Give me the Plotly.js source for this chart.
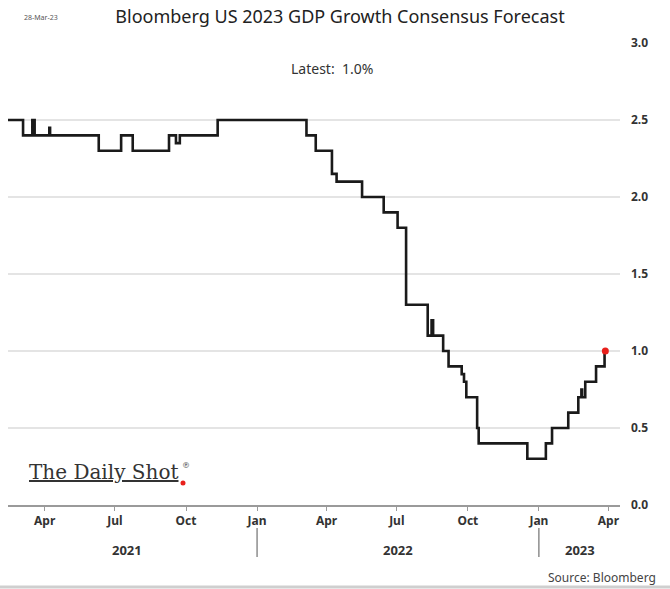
<!DOCTYPE html>
<html>
<head>
<meta charset="utf-8">
<script src="https://cdn.plot.ly/plotly-3.0.1.min.js"></script>
<style>
  html, body { margin: 0; padding: 0; background: #ffffff; }
  #chart { width: 670px; height: 589px; }
</style>
</head>
<body>
<div id="chart"></div>
<script>
// Consensus forecast (step series)
const dates = [
  '2021-02-12', '2021-03-04', '2021-03-16', '2021-03-19', '2021-04-07', '2021-04-08',
  '2021-06-10', '2021-07-09', '2021-07-24', '2021-09-09', '2021-09-18', '2021-09-23',
  '2021-11-11', '2022-03-06', '2022-03-18', '2022-04-08', '2022-04-14', '2022-05-17',
  '2022-06-14', '2022-07-02', '2022-07-13', '2022-08-10', '2022-08-15', '2022-08-17',
  '2022-08-30', '2022-09-06', '2022-09-23', '2022-09-26', '2022-09-29', '2022-10-13',
  '2022-10-15', '2022-12-17', '2023-01-10', '2023-01-18', '2023-02-08', '2023-02-21',
  '2023-02-25', '2023-02-26', '2023-03-02', '2023-03-16', '2023-03-27', '2023-03-28'
];
const values = [
  2.5, 2.4, 2.5, 2.4, 2.45, 2.4,
  2.3, 2.4, 2.3, 2.4, 2.35, 2.4,
  2.5, 2.4, 2.3, 2.15, 2.1, 2.0,
  1.9, 1.8, 1.3, 1.1, 1.2, 1.1,
  1.0, 0.9, 0.85, 0.8, 0.7, 0.5,
  0.4, 0.3, 0.4, 0.5, 0.6, 0.7,
  0.75, 0.7, 0.8, 0.9, 1.0, 1.0
];
const latestDate = ['2023-03-28'];
const latestValue = [1.0];

const tickDates = ['2021-04-01','2021-07-01','2021-10-01','2022-01-01','2022-04-01','2022-07-01','2022-10-01','2023-01-01','2023-04-01'];
const tickText = ['Apr','Jul','Oct','Jan','Apr','Jul','Oct','Jan','Apr'];
const yearLabels = ['2021','2022','2023'];
const yearLabelDates = ['2021-07-17','2022-07-02','2023-02-23'];
const yearBreaks = ['2022-01-01','2023-01-01'];
const yTicks = [0, 0.5, 1.0, 1.5, 2.0, 2.5, 3.0];
const yTickText = ['0.0','0.5','1.0','1.5','2.0','2.5','3.0'];

const FONT = 'Noto Sans, Open Sans, sans-serif';

// plot-area geometry helpers (pixels -> paper)
const L = 8, R = 50, T = 43, B = 84, W = 670, H = 589;
const pw = W - L - R, ph = H - T - B;
const px = x => (x - L) / pw;
const py = y => (H - B - y) / ph;

const traces = [
  {
    x: dates, y: values, type: 'scatter', mode: 'lines',
    line: { color: '#1a1a1a', width: 2.6, shape: 'hv' },
    hoverinfo: 'skip', showlegend: false
  },
  {
    x: latestDate, y: latestValue, type: 'scatter', mode: 'markers',
    marker: { color: '#e8201c', size: 7 },
    hoverinfo: 'skip', showlegend: false
  }
];

const annotations = [
  { text: 'Latest:  1.0%', xref: 'paper', yref: 'paper', x: px(332), y: py(68),
    xanchor: 'center', yanchor: 'middle',
    showarrow: false, font: { family: FONT, size: 14, color: '#333333' } },
  { text: '28-Mar-23', xref: 'paper', yref: 'paper', x: px(41), y: py(18),
    xanchor: 'center', yanchor: 'middle',
    showarrow: false, font: { family: FONT, size: 7, color: '#555555' } },
  { text: 'Source: Bloomberg', xref: 'paper', yref: 'paper', x: px(658), y: py(577),
    xanchor: 'right', yanchor: 'middle', showarrow: false, font: { family: FONT, size: 12, color: '#444444' } },
  { text: '<u>The Daily Shot</u>', xref: 'paper', yref: 'paper', x: px(27), y: py(472),
    xanchor: 'left', yanchor: 'middle', showarrow: false,
    font: { family: 'DejaVu Serif, Liberation Serif, serif', size: 20, color: '#333333' } },
  { text: '®', xref: 'paper', yref: 'paper', x: px(186), y: py(465),
    xanchor: 'center', yanchor: 'middle', showarrow: false,
    font: { family: 'DejaVu Serif, Liberation Serif, serif', size: 8, color: '#333333' } }
];
yearLabels.forEach((t, i) => {
  annotations.push({ text: t, xref: 'x', yref: 'paper', x: yearLabelDates[i], y: py(550),
    xanchor: 'center', yanchor: 'middle',
    showarrow: false, font: { family: FONT, size: 13, color: '#333333', weight: 'bold' } });
});

const shapes = [
  { type: 'rect', xref: 'paper', yref: 'paper', x0: px(223), x1: px(441), y0: py(48), y1: py(38),
    fillcolor: '#ffffff', line: { width: 0 }, layer: 'above' },
  { type: 'circle', xref: 'paper', yref: 'paper', x0: px(180.5), x1: px(185.5), y0: py(485.5), y1: py(480.5),
    fillcolor: '#e8201c', line: { width: 0 }, layer: 'above' },
  { type: 'line', xref: 'paper', yref: 'paper', x0: px(0), x1: px(670), y0: py(587), y1: py(587),
    line: { color: '#cfcfcf', width: 3 } }
];
yearBreaks.forEach(d => {
  shapes.push({ type: 'line', xref: 'x', yref: 'paper', x0: d, x1: d, y0: py(528), y1: py(557),
    line: { color: '#555555', width: 1 } });
});

const layout = {
  width: W, height: H,
  margin: { l: L, r: R, t: T, b: B },
  paper_bgcolor: '#ffffff', plot_bgcolor: '#ffffff',
  title: { text: 'Bloomberg US 2023 GDP Growth Consensus Forecast', xref: 'container', yref: 'container',
    x: 340 / W, y: 1 - 17 / H, xanchor: 'center', yanchor: 'middle',
    font: { family: FONT, size: 18, color: '#222222' } },
  xaxis: {
    type: 'date', range: ['2021-02-12 12:00', '2023-04-16'],
    tickvals: tickDates, ticktext: tickText,
    showgrid: false, zeroline: false,
    showline: true, linecolor: '#9a9a9a', linewidth: 1.5,
    ticks: 'outside', ticklen: 4, tickcolor: '#9a9a9a', tickwidth: 1,
    tickfont: { family: FONT, size: 12, color: '#333333', weight: 'bold' },
    fixedrange: true
  },
  yaxis: {
    side: 'right', range: [0, 3], tickvals: yTicks, ticktext: yTickText,
    showgrid: true, gridcolor: '#e4e4e4', gridwidth: 1.5,
    zeroline: false, showline: false, ticks: '',
    ticklabelstandoff: 10,
    tickfont: { family: FONT, size: 12, color: '#333333', weight: 'bold' },
    fixedrange: true
  },
  annotations: annotations,
  shapes: shapes,
  showlegend: false
};

Plotly.newPlot('chart', traces, layout, { displayModeBar: false, staticPlot: true });
</script>
</body>
</html>
